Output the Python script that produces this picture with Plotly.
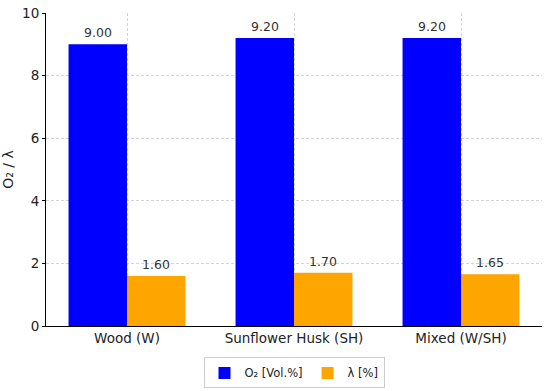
import plotly.graph_objects as go

categories = ["Wood (W)", "Sunflower Husk (SH)", "Mixed (W/SH)"]
o2_values = [9.00, 9.20, 9.20]
lambda_values = [1.60, 1.70, 1.65]
series_names = ["O₂ [Vol.%]", "λ [%]"]
y_ticks = [0, 2, 4, 6, 8, 10]

FONT = "DejaVu Sans"
W = 0.35
pos = list(range(len(categories)))
x_o2 = [p - W / 2 for p in pos]
x_lam = [p + W / 2 for p in pos]

fig = go.Figure()
fig.add_bar(x=x_o2, y=o2_values, width=W, name=series_names[0],
            marker=dict(color="#0000ff", line=dict(width=0)))
fig.add_bar(x=x_lam, y=lambda_values, width=W, name=series_names[1],
            marker=dict(color="#ffa500", line=dict(width=0)))

for xs, ys in ((x_o2, o2_values), (x_lam, lambda_values)):
    for x, y in zip(xs, ys):
        fig.add_annotation(x=x, y=y, text=f"{y:.2f}", showarrow=False,
                           yanchor="bottom", yshift=2,
                           font=dict(family=FONT, size=12.5, color="#333333"))

fig.update_layout(
    width=550, height=391,
    margin=dict(l=46, r=8, t=13, b=65, autoexpand=False),
    plot_bgcolor="white", paper_bgcolor="white",
    font=dict(family=FONT, size=13, color="#222222"),
    barmode="overlay",
    showlegend=True,
    legend=dict(orientation="h", x=0.5, xanchor="center", y=-0.15, yanchor="middle",
                bordercolor="#cccccc", borderwidth=1, font=dict(size=11.5, family=FONT),
                itemwidth=30),
)
fig.update_xaxes(range=[-0.485, 2.485], tickmode="array", tickvals=pos, ticktext=categories,
                 showgrid=True, gridcolor="#d4d4d4", griddash="3px,2px", gridwidth=1,
                 showline=True, linecolor="black", linewidth=1,
                 ticks="", automargin=False,
                 tickfont=dict(size=13.5, family=FONT, color="#222222"), zeroline=False)
fig.update_yaxes(range=[0, 10], tickmode="array", tickvals=y_ticks,
                 showgrid=True, gridcolor="#d4d4d4", griddash="3px,2px", gridwidth=1,
                 showline=True, linecolor="black", linewidth=1,
                 ticks="outside", ticklen=3, tickcolor="black", automargin=False,
                 tickfont=dict(size=13.5, family=FONT, color="#222222"), zeroline=False,
                 title=dict(text="O₂ / λ", font=dict(size=14, family=FONT), standoff=5))

fig.write_html("out.html", config={"displayModeBar": False},
               post_script="document.body.style.margin='0';")
